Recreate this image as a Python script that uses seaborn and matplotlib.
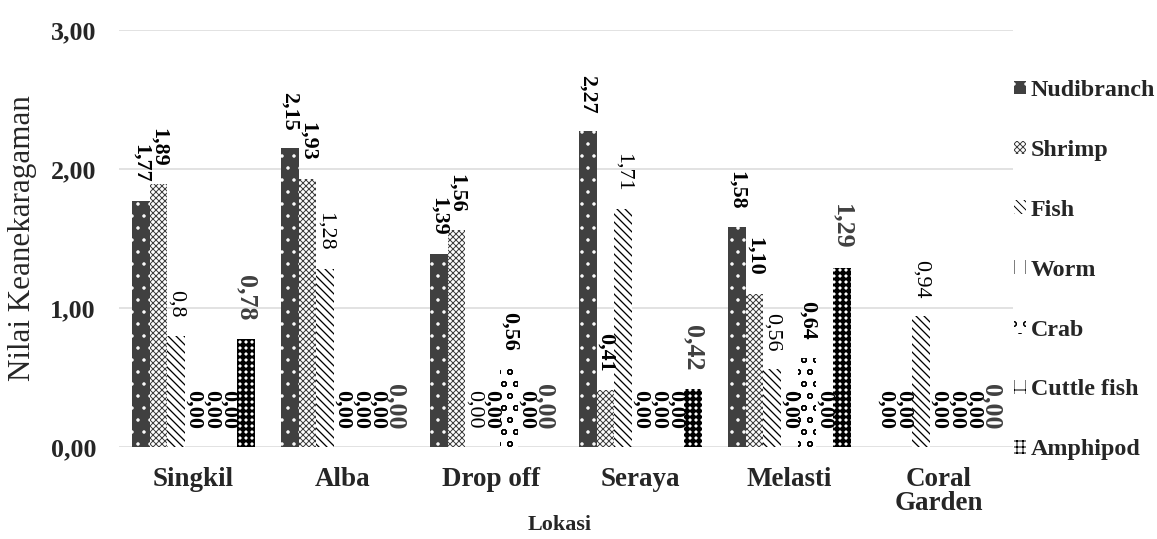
import matplotlib
matplotlib.use("Agg")
import matplotlib.pyplot as plt
import seaborn as sns
import pandas as pd

# ---------------- data ----------------
locations = ["Singkil", "Alba", "Drop off", "Seraya", "Melasti", "Coral\nGarden"]
groups = ["Nudibranch", "Shrimp", "Fish", "Worm", "Crab", "Cuttle fish", "Amphipod"]
nudibranch = [1.77, 2.15, 1.39, 2.27, 1.58, 0.00]
shrimp = [1.89, 1.93, 1.56, 0.41, 1.10, 0.00]
fish = [0.80, 1.28, 0.00, 1.71, 0.56, 0.94]
worm = [0.00, 0.00, 0.00, 0.00, 0.00, 0.00]
crab = [0.00, 0.00, 0.56, 0.00, 0.64, 0.00]
cuttle_fish = [0.00, 0.00, 0.00, 0.00, 0.00, 0.00]
amphipod = [0.78, 0.00, 0.00, 0.42, 1.29, 0.00]
fish_labels = ["0,8", "1,28", "0,00", "1,71", "0,56", "0,94"]
yticks = [0, 1, 2, 3]
ytick_labels = ["0,00", "1,00", "2,00", "3,00"]

series = [nudibranch, shrimp, fish, worm, crab, cuttle_fish, amphipod]
rows = []
for g, vals in zip(groups, series):
    for loc, v in zip(locations, vals):
        rows.append({"Lokasi": loc, "Kelompok": g, "Nilai": v})
df = pd.DataFrame(rows)

# ---------------- style ----------------
sns.set_theme(style="white")
plt.rcParams["font.family"] = ["Liberation Serif", "DejaVu Serif"]
plt.rcParams["hatch.linewidth"] = 1.0

DPI = 72
W, H = 1157, 539
fig = plt.figure(figsize=(W / DPI, H / DPI), dpi=DPI)
ax = fig.add_axes([119 / W, (H - 447) / H, (1013 - 119) / W, (447 - 30) / H])

sns.barplot(data=df, x="Lokasi", y="Nilai", hue="Kelompok", order=locations,
            hue_order=groups, width=0.826, gap=0, errorbar=None, saturation=1,
            legend=False, ax=ax)

styles = [
    dict(face="#404040", hatch=".", hc="white", hlw=1.0),
    dict(face="white", hatch="xxxx", hc="#404040", hlw=1.0),
    dict(face="white", hatch="\\\\\\", hc="black", hlw=1.3),
    dict(face="white", hatch="|", hc="black", hlw=1.5),
    dict(face="white", hatch="o", hc="black", hlw=1.2),
    dict(face="white", hatch="+", hc="black", hlw=1.5),
    dict(face="white", hatch="++", hc="black", hlw=3.0),
]

for cont, st in zip(ax.containers, styles):
    for p in cont.patches:
        p.set_facecolor(st["face"])
        p.set_edgecolor(st["hc"])
        p.set_linewidth(0)
        p.set_hatch(st["hatch"])
        if hasattr(p, "set_hatch_linewidth"):
            p.set_hatch_linewidth(st["hlw"])

# ---------------- data labels ----------------
def fmt(v):
    return f"{v:.2f}".replace(".", ",")

for i, (cont, vals) in enumerate(zip(ax.containers, series)):
    if groups[i] == "Fish":
        labels = fish_labels
        kw = dict(fontsize=22, fontweight="normal", color="black")
    elif groups[i] == "Amphipod":
        labels = [fmt(v) for v in vals]
        kw = dict(fontsize=26, fontweight="bold", color="#404040")
    else:
        labels = [fmt(v) for v in vals]
        kw = dict(fontsize=22, fontweight="bold", color="black")
    ax.bar_label(cont, labels=labels, rotation=270, padding=18, **kw)

# ---------------- axes ----------------
ax.set_ylim(0, 3)
ax.set_yticks(yticks)
ax.set_yticklabels(ytick_labels, fontsize=26, fontweight="bold")
ax.set_xticks(range(len(locations)))
ax.set_xticklabels(locations, fontsize=27, fontweight="bold", linespacing=0.95)
ax.tick_params(axis="y", length=0, pad=23)
ax.tick_params(axis="x", length=0, pad=20)
for s in ax.spines.values():
    s.set_visible(False)
ax.yaxis.grid(True, color="#d9d9d9", linewidth=1.5)
ax.xaxis.grid(False)
ax.set_axisbelow(True)

ax.set_ylabel("Nilai Keanekaragaman", fontsize=31, labelpad=13)
ax.set_xlabel("Lokasi", fontsize=22, fontweight="bold")
ax.xaxis.set_label_coords(0.493, -0.163)

handles = [cont.patches[0] for cont in ax.containers]
leg = ax.legend(handles, groups, loc="upper left",
                bbox_to_anchor=(1014 / W, 1 - 80 / H), bbox_transform=fig.transFigure,
                frameon=False, prop=dict(size=24, weight="bold"),
                handlelength=0.5, handleheight=0.5, handletextpad=0.2,
                labelspacing=1.62, borderpad=0, borderaxespad=0)

fig.savefig("out.png", dpi=DPI)
